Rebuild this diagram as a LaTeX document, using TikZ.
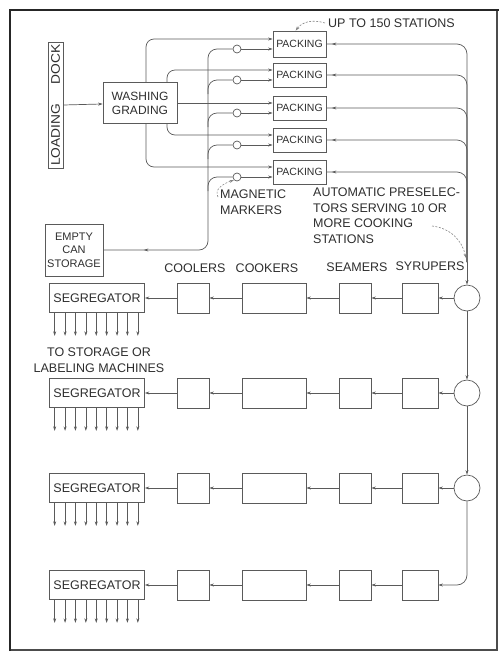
\documentclass[tikz,border=0pt]{standalone}
\usepackage{fontspec}
\setmainfont{Liberation Sans}
\usepackage{graphicx}
\usepackage{tikz}
\usetikzlibrary{positioning}
\usetikzlibrary{arrows.meta}
\usetikzlibrary{decorations.markings}

\definecolor{linegray}{HTML}{5A5A5A}
\definecolor{inkgray}{HTML}{2E2E2E}

\begin{document}
\begin{tikzpicture}[
      x=1pt, y=-1pt, >={Stealth[length=4.5pt,width=3pt]},
      line/.style={draw=linegray, line width=0.7pt},
      blk/.style={draw=linegray, line width=0.7pt, inner sep=0pt, text=inkgray,
        font=\fontsize{12.5}{14}\selectfont},
      pack/.style={blk, minimum width=53pt, minimum height=24pt,
        font=\fontsize{10.5}{12}\selectfont},
      marker/.style={circle, draw=linegray, line width=0.7pt, fill=white,
        minimum size=8pt, inner sep=0pt},
      sel/.style={circle, draw=linegray, line width=0.7pt, minimum size=26pt, inner sep=0pt},
      lbl/.style={text=inkgray, inner sep=0pt, font=\fontsize{12.5}{15.5}\selectfont},
      leader/.style={draw=linegray!75, line width=0.6pt, dash pattern=on 2pt off 1.5pt},
      backtip/.style={postaction={decorate},
        decoration={markings, mark=at position #1 with {\arrow{<}}}}]
      \useasboundingbox (0,0) rectangle (499,654);
      % frame of the plate
      \draw[line width=1.1pt, draw=black!70] (10,10) rectangle (497,650);
      \draw[line width=1.8pt, draw=black!85] (10,651) -- (10,10) -- (499,10);

      % receiving side
      \node[blk, rotate=90, minimum width=126pt, minimum height=15pt] (dock) at (55.5,105)
        {\scalebox{1.1}[1]{LOADING\hspace{18pt}DOCK}};
      \node[blk, minimum width=74pt, minimum height=41pt, align=center,
        font=\fontsize{12}{14}\selectfont] (wash) at (140,103) {WASHING\\GRADING};
      \node[blk, minimum width=58pt, minimum height=52pt, align=center,
        font=\fontsize{11}{13.5}\selectfont] (cans) at (74,250) {EMPTY\\CAN\\STORAGE};
      \draw[line, ->] (dock.south) -- (wash);

      % packing stations, each fed by washed fruit and marked cans
      \node[pack, minimum height=26pt] (pk1) at (299.5,44) {PACKING};
      \node[pack] (pk2) at (299.5,75)  {PACKING};
      \node[pack] (pk3) at (299.5,108) {PACKING};
      \node[pack] (pk4) at (299.5,140) {PACKING};
      \node[pack] (pk5) at (299.5,172) {PACKING};
      \node[marker] (mk1) at (237,49)  {};
      \node[marker] (mk2) at (237,80)  {};
      \node[marker] (mk3) at (237,113) {};
      \node[marker] (mk4) at (237,145) {};
      \node[marker] (mk5) at (237,177) {};

      \coordinate (wx1) at (146,0);
      \coordinate (wx2) at (167,0);
      \draw[line, ->, rounded corners=8pt] (wash.north -| wx1) |- ([yshift=5pt]pk1.west);
      \draw[line, ->, rounded corners=8pt] (wash.north -| wx2) |- ([yshift=5pt]pk2.west);
      \draw[line, ->] (wash.east) -- ([yshift=5pt]pk3.west);
      \draw[line, ->, rounded corners=8pt] (wash.south -| wx2) |- ([yshift=5pt]pk4.west);
      \draw[line, ->, rounded corners=8pt] (wash.south -| wx1) |- ([yshift=5pt]pk5.west);

      \coordinate (mv) at (208,0);
      \draw[line, rounded corners=9pt, backtip=45pt] (cans.east) -| (mv |- mk1) -- (mk1);
      \foreach \i in {2,...,5}
        \draw[line, rounded corners=9pt] (mv |- mk\i) ++(0,14) |- (mk\i);
      \foreach \i in {1,...,5}
        \draw[line, ->] (mk\i) -- (mk\i -| pk\i.west);

      % cooking lines
      \foreach \r/\y in {1/298,2/393,3/488,4/585} {
        \node[blk, minimum width=95pt, minimum height=29pt] (seg\r) at (97,\y) {SEGREGATOR};
        \node[blk, minimum width=32pt, minimum height=30pt] (cool\r) at (193,\y) {};
        \node[blk, minimum width=64pt, minimum height=30pt] (cook\r) at (274,\y) {};
        \node[blk, minimum width=32pt, minimum height=30pt] (seam\r) at (355,\y) {};
        \node[blk, minimum width=36pt, minimum height=30pt] (syr\r)  at (420,\y) {};
        \draw[line, ->] (syr\r) -- (seam\r);
        \draw[line, ->] (seam\r) -- (cook\r);
        \draw[line, ->] (cook\r) -- (cool\r);
        \draw[line, ->] (cool\r) -- (seg\r);
        \foreach \k in {0,...,8} {
          \path (seg\r.south west) ++(5.5+10.4*\k,0) coordinate (st) ++(0,23) coordinate (en);
          \draw[line, ->] (st) -- (en);
        }
      }
      \node[sel] (sel1) at (467,298) {};
      \node[sel] (sel2) at (467,393) {};
      \node[sel] (sel3) at (467,488) {};
      \draw[line, ->] (sel1) -- (syr1);
      \draw[line, ->] (sel2) -- (syr2);
      \draw[line, ->] (sel3) -- (syr3);
      \draw[line, ->] (sel1) -- (sel2);
      \draw[line, ->] (sel2) -- (sel3);
      \draw[line, ->, rounded corners=10pt] (sel3) |- (syr4);

      % packed cans run down to the preselectors
      \coordinate (jn) at (467,262);
      \foreach \i in {1,...,5}
        \draw[line, rounded corners=10pt, backtip=10pt] (pk\i.east) -| (jn);
      \draw[line, ->] (jn) -- (sel1);

      % labels
      \node[lbl, above=10pt of cool1, xshift=2pt]  {COOLERS};
      \node[lbl, above=10pt of cook1, xshift=-7pt] {COOKERS};
      \node[lbl, above=11pt of seam1, xshift=2pt]  {SEAMERS};
      \node[lbl, above=12pt of syr1, xshift=10pt]  {SYRUPERS};
      \node[lbl, align=center] (dest) at (99,360) {TO STORAGE OR\\LABELING MACHINES};
      \node[lbl, anchor=west] (ups) at (328,23) {UP TO 150 STATIONS};
      \node[lbl, align=left, anchor=north west] (mag) at (220,190) {MAGNETIC\\MARKERS};
      \node[lbl, align=left, anchor=north west] (pre) at (313,188)
        {AUTOMATIC PRESELEC-\\TORS SERVING 10 OR\\MORE COOKING\\STATIONS};
      \coordinate (pc) at (432,226);
      \draw[leader, ->] ([xshift=-3pt]ups.west) .. controls (312,19) and (302,22) .. ([xshift=23pt]pk1.north west);
      \draw[leader, ->] (218,197) .. controls (214,190) and (222,184) .. (mk5.south west);
      \draw[leader, ->] (pc) .. controls (450,228) and (462,240) .. (466,258);
    \end{tikzpicture}
\end{document}
